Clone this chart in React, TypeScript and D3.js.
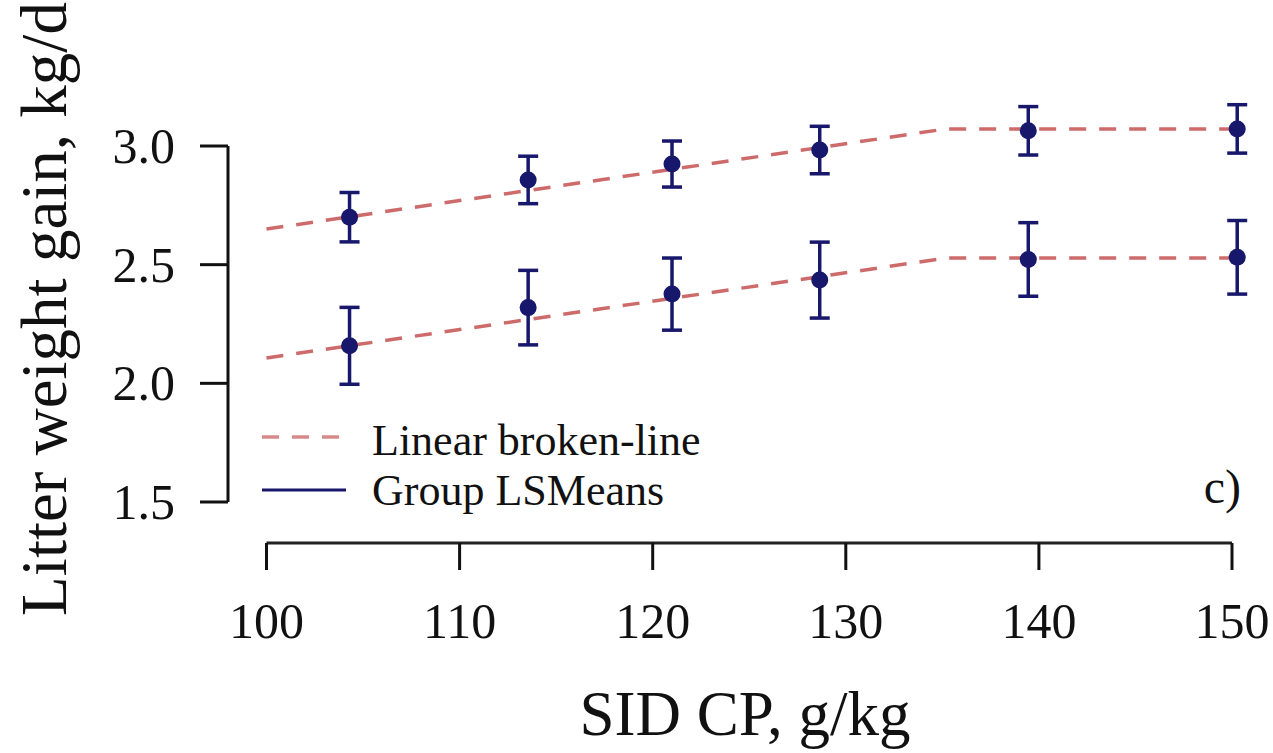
import React from "react"
import * as d3 from "d3"

// SID CP levels (g/kg) of the six groups
const cpLevels = [104.3, 113.55, 121.0, 128.65, 139.45, 150.27]

// group LSMeans and their error (kg/d)
const upperMeans = [2.7, 2.857, 2.924, 2.983, 3.064, 3.072]
const upperErr = [0.104, 0.1, 0.097, 0.1, 0.102, 0.102]
const lowerMeans = [2.158, 2.319, 2.376, 2.435, 2.522, 2.531]
const lowerErr = [0.162, 0.157, 0.152, 0.16, 0.155, 0.155]

// linear broken-line fits: start, breakpoint, end
const fitX = [100, 135.2, 150.27]
const upperFit = [2.65, 3.072, 3.072]
const lowerFit = [2.107, 2.528, 2.528]

const xTicks = [100, 110, 120, 130, 140, 150]
const yTicks = [1.5, 2.0, 2.5, 3.0]

const W = 1273
const H = 753
const FONT = "Liberation Serif, DejaVu Serif, serif"
const NAVY = "#17176b"
const RED = "#c85a5a"

export default function App() {
  const x = d3.scaleLinear().domain([100, 150]).range([266.5, 1232])
  const y = d3.scaleLinear().domain([1.5, 3.0]).range([502, 146])
  const axisX = 228
  const axisY = 543

  const line = d3
    .line<[number, number]>()
    .x((d) => x(d[0]))
    .y((d) => y(d[1]))

  const fits = [upperFit, lowerFit].map((ys) =>
    line(fitX.map((v, i) => [v, ys[i]] as [number, number]))
  )

  const groups = [
    { means: upperMeans, err: upperErr },
    { means: lowerMeans, err: lowerErr },
  ]

  return (
    <svg
      width={W}
      height={H}
      style={{ position: "absolute", left: 0, top: 0, background: "#fff", fontFamily: FONT }}
    >
      {/* y axis */}
      <line x1={axisX} x2={axisX} y1={y(3.0)} y2={y(1.5)} stroke="#111" strokeWidth={3} />
      {yTicks.map((t) => (
        <g key={t}>
          <line x1={axisX - 28} x2={axisX} y1={y(t)} y2={y(t)} stroke="#111" strokeWidth={3} />
          <text x={175} y={y(t) + 17} fontSize={50} textAnchor="end" fill="#111">
            {d3.format(".1f")(t)}
          </text>
        </g>
      ))}

      {/* x axis */}
      <line x1={x(100)} x2={x(150)} y1={axisY} y2={axisY} stroke="#222" strokeWidth={3} />
      {xTicks.map((t) => (
        <g key={t}>
          <line x1={x(t)} x2={x(t)} y1={axisY} y2={axisY + 27} stroke="#111" strokeWidth={3} />
          <text x={x(t)} y={638} fontSize={50} textAnchor="middle" fill="#111">
            {t}
          </text>
        </g>
      ))}

      {/* axis titles */}
      <text
        transform={`translate(66, 309) rotate(-90)`}
        fontSize={65}
        textAnchor="middle"
        fill="#111"
      >
        Litter weight gain, kg/d
      </text>
      <text x={745} y={735} fontSize={63} textAnchor="middle" fill="#111">
        SID CP, g/kg
      </text>

      {/* broken-line fits */}
      {fits.map((d, i) => (
        <path
          key={i}
          d={d || ""}
          fill="none"
          stroke={RED}
          strokeWidth={3.5}
          strokeDasharray="17 13"
          opacity={0.9}
        />
      ))}

      {/* LSMeans with error bars */}
      {groups.map((g, gi) =>
        cpLevels.map((c, i) => {
          const cx = x(c)
          const top = y(g.means[i] + g.err[i])
          const bot = y(g.means[i] - g.err[i])
          return (
            <g key={`${gi}-${i}`} stroke={NAVY} strokeWidth={3.5}>
              <line x1={cx} x2={cx} y1={top} y2={bot} />
              <line x1={cx - 10} x2={cx + 10} y1={top} y2={top} />
              <line x1={cx - 10} x2={cx + 10} y1={bot} y2={bot} />
              <circle cx={cx} cy={y(g.means[i])} r={8.5} fill={NAVY} stroke="none" />
            </g>
          )
        })
      )}

      {/* legend */}
      <line x1={262} x2={346} y1={437} y2={437} stroke={RED} strokeWidth={3.5} strokeDasharray="17 13" opacity={0.7} />
      <text x={372} y={455} fontSize={44} fill="#111">
        Linear broken-line
      </text>
      <line x1={262} x2={346} y1={490} y2={490} stroke={NAVY} strokeWidth={3} />
      <text x={372} y={505} fontSize={44} fill="#111">
        Group LSMeans
      </text>

      {/* panel label */}
      <text x={1241} y={503} fontSize={48} textAnchor="end" fill="#111">
        c)
      </text>
    </svg>
  )
}
